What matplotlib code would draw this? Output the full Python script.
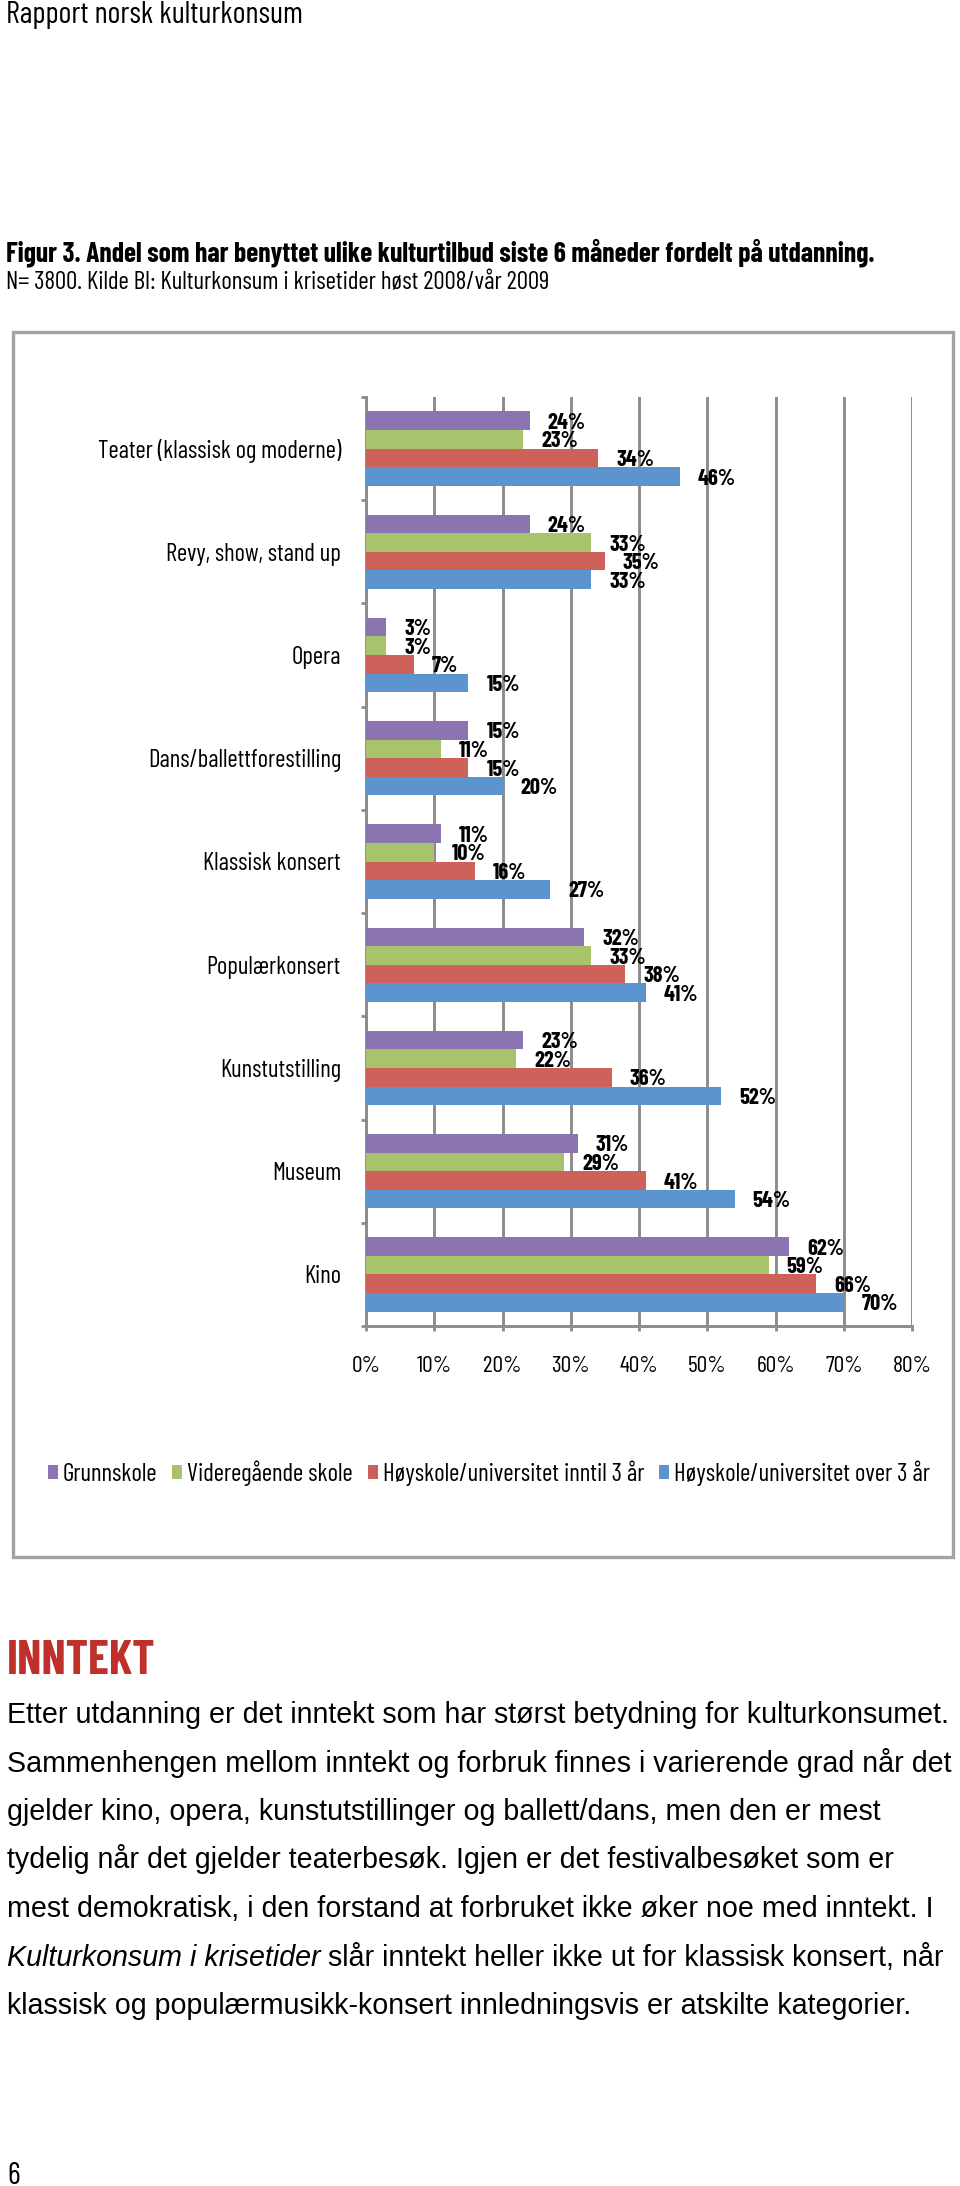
import numpy as np
import matplotlib
matplotlib.use("Agg")
import matplotlib.pyplot as plt
from matplotlib.patches import Patch, Rectangle
from matplotlib.ticker import PercentFormatter

# Data
categories = ["Teater (klassisk og moderne)", "Revy, show, stand up", "Opera",
              "Dans/ballettforestilling", "Klassisk konsert", "Populærkonsert",
              "Kunstutstilling", "Museum", "Kino"]
series_names = ["Grunnskole", "Videregående skole",
                "Høyskole/universitet inntil 3 år", "Høyskole/universitet over 3 år"]
grunnskole = [24, 24, 3, 15, 11, 32, 23, 31, 62]
videregaende = [23, 33, 3, 11, 10, 33, 22, 29, 59]
hoyskole_inntil3 = [34, 35, 7, 15, 16, 38, 36, 41, 66]
hoyskole_over3 = [46, 33, 15, 20, 27, 41, 52, 54, 70]
colors = ["#8c74b0", "#a7c46c", "#ce625b", "#5b94cf"]
xticks = [0, 10, 20, 30, 40, 50, 60, 70, 80]

paragraph = [
    "Etter utdanning er det inntekt som har størst betydning for kulturkonsumet.",
    "Sammenhengen mellom inntekt og forbruk finnes i varierende grad når det",
    "gjelder kino, opera, kunstutstillinger og ballett/dans, men den er mest",
    "tydelig når det gjelder teaterbesøk. Igjen er det festivalbesøket som er",
    "mest demokratisk, i den forstand at forbruket ikke øker noe med inntekt. I",
    None,
    "klassisk og populærmusikk-konsert innledningsvis er atskilte kategorier.",
]
italic_part = "Kulturkonsum i krisetider"
after_italic = " slår inntekt heller ikke ut for klassisk konsert, når"

NARROW = ["Barlow Condensed", "DejaVu Sans"]
BODY = ["Liberation Sans", "DejaVu Sans"]

W, H = 960, 2186
fig = plt.figure(figsize=(W / 100, H / 100), dpi=100)
renderer = fig.canvas.get_renderer()


def fx(x):
    return x / W


def fy(y):
    return 1 - y / H


# font size that makes a text as wide as in the reference
def fit_size(s, target_px, **kw):
    t = fig.text(0, 0, s, fontsize=20, **kw)
    w = t.get_window_extent(renderer).width
    t.remove()
    return 20 * target_px / w


head_fs = fit_size("Rapport norsk kulturkonsum", 297, family=NARROW)
title_fs = fit_size("Figur 3. Andel som har benyttet ulike kulturtilbud siste 6 måneder fordelt på utdanning.",
                    870, family=NARROW, fontweight="bold")
sub_fs = fit_size("N= 3800. Kilde BI: Kulturkonsum i krisetider høst 2008/vår 2009", 545, family=NARROW)
cat_fs = fit_size(categories[0], 243, family=NARROW)
tick_fs = fit_size("80%", 39, family=NARROW)
val_fs = fit_size("46%", 38, family=NARROW, fontweight="bold")
leg_fs = fit_size(series_names[0], 95, family=NARROW)
sec_fs = fit_size("INNTEKT", 148, family=NARROW, fontweight="bold")
body_fs = fit_size(paragraph[0], 938, family=BODY)

fig.text(fx(6), fy(23), "Rapport norsk kulturkonsum", family=NARROW, fontsize=head_fs,
         va="baseline", ha="left")
fig.text(fx(6), fy(261), "Figur 3. Andel som har benyttet ulike kulturtilbud siste 6 måneder fordelt på utdanning.",
         family=NARROW, fontsize=title_fs, fontweight="bold", va="baseline", ha="left")
fig.text(fx(6), fy(289), "N= 3800. Kilde BI: Kulturkonsum i krisetider høst 2008/vår 2009",
         family=NARROW, fontsize=sub_fs, va="baseline", ha="left")

# chart frame
fig.patches.append(Rectangle((fx(13), fy(1557)), fx(953) - fx(13), fy(332) - fy(1557),
                             transform=fig.transFigure, fill=False, edgecolor="#a3a3a3",
                             linewidth=2.4, zorder=0))

ax = fig.add_axes([fx(366), fy(1326), fx(912) - fx(366), fy(397) - fy(1326)])
series = [grunnskole, videregaende, hoyskole_inntil3, hoyskole_over3]
y = np.arange(len(categories))
bar_h = 0.18
offsets = [-1.5 * bar_h, -0.5 * bar_h, 0.5 * bar_h, 1.5 * bar_h]
for vals, off, col in zip(series, offsets, colors):
    ax.barh(y + off, np.array(vals) / 100, height=bar_h, color=col, zorder=3)
    for yi, v in zip(y, vals):
        ax.annotate(f"{v}%", (v / 100, yi + off), xytext=(13, -1.5), textcoords="offset points",
                    va="center", ha="left", family=NARROW, fontsize=val_fs, fontweight="bold",
                    zorder=4)

ax.set_xlim(0, 0.8)
ax.set_ylim(len(categories) - 0.5, -0.5)
ax.set_xticks(np.array(xticks) / 100)
ax.xaxis.set_major_formatter(PercentFormatter(1.0, decimals=0))
ax.set_yticks(y)
ax.set_yticklabels(categories)
ax.set_yticks(np.arange(-0.5, len(categories)), minor=True)
ax.grid(axis="x", color="#8c8c8c", linewidth=2.1, zorder=1)
for s in ["top", "right"]:
    ax.spines[s].set_visible(False)
for s in ["left", "bottom"]:
    ax.spines[s].set_color("#8c8c8c")
    ax.spines[s].set_linewidth(2.1)
ax.tick_params(axis="y", which="major", length=0, pad=18)
ax.tick_params(axis="y", which="minor", length=3.5, width=2, color="#8c8c8c")
ax.tick_params(axis="x", length=3.5, width=2, color="#8c8c8c", pad=18)
for lab in ax.get_yticklabels():
    lab.set_family(NARROW)
    lab.set_fontsize(cat_fs)
for lab in ax.get_xticklabels():
    lab.set_family(NARROW)
    lab.set_fontsize(tick_fs)

handles = [Patch(facecolor=c, edgecolor="none", label=n) for c, n in zip(colors, series_names)]
em = leg_fs * 100 / 72
fig.legend(handles=handles, loc="center", bbox_to_anchor=(fx(489), fy(1473)), ncol=4,
           frameon=False, prop={"family": NARROW, "size": leg_fs}, handlelength=10 / em,
           handleheight=0.5, handletextpad=5 / em, columnspacing=15 / em, borderpad=0)

# section below the chart
fig.text(fx(7), fy(1674), "INNTEKT", family=NARROW, fontsize=sec_fs, fontweight="bold",
         color="#c0302a", va="baseline", ha="left")
base = 1723
step = 48.5
for i, line in enumerate(paragraph):
    yy = fy(base + i * step)
    if line is None:
        t = fig.text(fx(7), yy, italic_part, family=BODY, fontsize=body_fs, style="italic",
                     va="baseline", ha="left")
        bb = t.get_window_extent(renderer)
        fig.text(bb.x1 / W, yy, after_italic, family=BODY, fontsize=body_fs,
                 va="baseline", ha="left")
    else:
        fig.text(fx(7), yy, line, family=BODY, fontsize=body_fs, va="baseline", ha="left")

fig.text(fx(7), fy(2184), "6", family=NARROW, fontsize=head_fs, va="baseline", ha="left")

fig.savefig("out.png", dpi=100)
